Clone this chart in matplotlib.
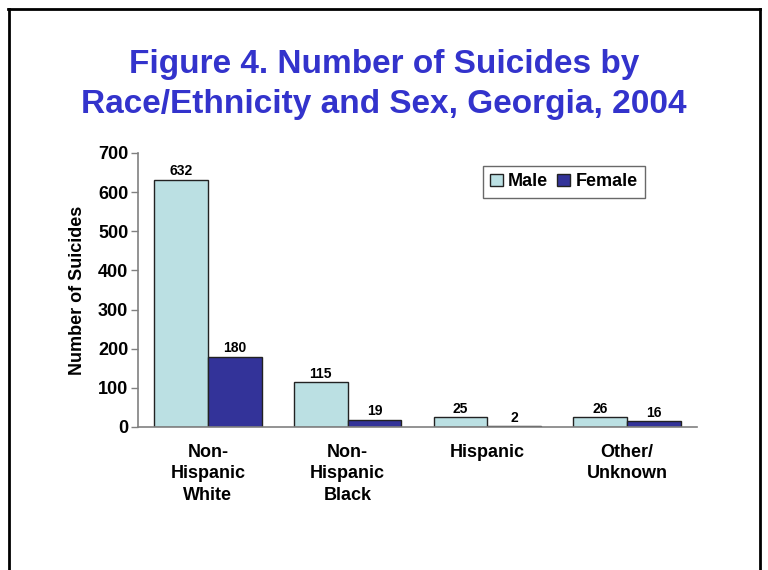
import matplotlib
matplotlib.use("Agg")
import matplotlib.pyplot as plt
from matplotlib.lines import Line2D
import numpy as np

# data
groups = ["Non-\nHispanic\nWhite", "Non-\nHispanic\nBlack", "Hispanic", "Other/\nUnknown"]
male = [632, 115, 25, 26]
female = [180, 19, 2, 16]

MALE_COL = "#BBE0E3"
FEMALE_COL = "#333399"
TITLE_COL = "#3333CC"
EDGE = "#222222"

plt.rcParams["font.family"] = ["Liberation Sans", "DejaVu Sans"]
plt.rcParams["font.weight"] = "bold"

fig = plt.figure(figsize=(7.68, 5.70), dpi=100)
ax = fig.add_axes([0.1797, 0.2509, 0.9076 - 0.1797, 0.7316 - 0.2509])

x = np.arange(len(groups))
w = 0.385
b1 = ax.bar(x - w / 2, male, w, color=MALE_COL, edgecolor=EDGE, linewidth=1.0, label="Male")
b2 = ax.bar(x + w / 2, female, w, color=FEMALE_COL, edgecolor=EDGE, linewidth=1.0, label="Female")

for bars, vals in [(b1, male), (b2, female)]:
    for r, v in zip(bars, vals):
        ax.text(r.get_x() + r.get_width() / 2, v + 3, str(v), ha="center", va="bottom",
                fontsize=10, fontweight="bold")

ax.set_xlim(-0.5, 3.5)
ax.set_ylim(0, 700)
ax.set_yticks(range(0, 701, 100))
ax.set_xticks(x)
ax.set_xticklabels(groups, fontsize=13, fontweight="bold", linespacing=1.35)
ax.tick_params(axis="x", length=0, pad=12)
ax.tick_params(axis="y", length=5, width=1, color="#808080", labelsize=13, pad=2)
for s in ["top", "right"]:
    ax.spines[s].set_visible(False)
for s in ["left", "bottom"]:
    ax.spines[s].set_color("#808080")
    ax.spines[s].set_linewidth(1.2)

ax.set_ylabel("Number of Suicides", fontsize=13, fontweight="bold", labelpad=9)

leg = ax.legend(loc="upper left", bbox_to_anchor=(0.617, 0.952), ncol=2, fontsize=13,
                frameon=True, fancybox=False, edgecolor="#444444", handlelength=0.7,
                handleheight=0.7, handletextpad=0.3, columnspacing=0.5, borderpad=0.4,
                borderaxespad=0)
leg.get_frame().set_linewidth(1.0)

fig.text(0.5, 0.852, "Figure 4. Number of Suicides by\nRace/Ethnicity and Sex, Georgia, 2004",
         ha="center", va="center", fontsize=24, fontweight="bold", color=TITLE_COL,
         linespacing=1.35)

# slide frame
for xs, ys in [([8 / 768, 760 / 768], [1 - 9 / 570, 1 - 9 / 570]),
               ([9 / 768, 9 / 768], [0, 1 - 9 / 570]),
               ([760 / 768, 760 / 768], [0, 1 - 9 / 570])]:
    fig.add_artist(Line2D(xs, ys, color="black", linewidth=2, transform=fig.transFigure))

fig.savefig("out.png", dpi=100)
